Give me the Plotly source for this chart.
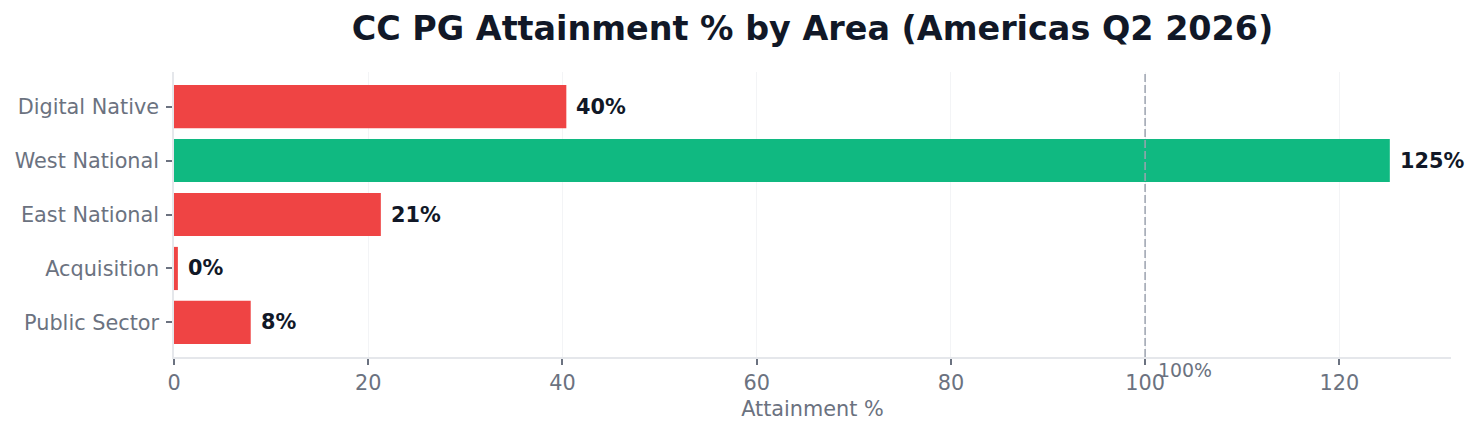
import plotly.graph_objects as go

# Daten
areas = ["Digital Native", "West National", "East National", "Acquisition", "Public Sector"]
attainment = [40.4, 125.2, 21.3, 0.4, 7.9]
target = 100

RED = "#ef4444"
GREEN = "#10b981"
colors = [GREEN if v >= target else RED for v in attainment]

# Seite hat 8px Body-Rand -> Figur etwas kleiner, Ränder angepasst
W, H = 1463, 419

fig = go.Figure()

fig.add_trace(go.Bar(
    x=attainment,
    y=areas,
    orientation="h",
    marker=dict(color=colors, line=dict(width=0)),
    width=0.8,
    hoverinfo="x+y",
))

# Wertebeschriftungen rechts neben den Balken
for area, val in zip(areas, attainment):
    fig.add_annotation(
        x=val, y=area, text=f"<b>{val:.0f}%</b>",
        xanchor="left", yanchor="middle", xshift=8, showarrow=False,
        font=dict(size=20.8, color="#111827", family="DejaVu Sans"),
    )

# Ziel-Linie bei 100 %
fig.add_shape(
    type="line", x0=target, x1=target, y0=0, y1=1, yref="paper",
    line=dict(color="#9ca3af", width=1.5, dash="8px,3px"),
)
fig.add_annotation(
    x=target, y=0, yref="paper", text="100%",
    xanchor="left", yanchor="top", xshift=11, yshift=0, showarrow=False,
    font=dict(size=18.9, color="#6b7280", family="DejaVu Sans"),
)

fig.update_layout(
    width=W, height=H,
    margin=dict(l=166, r=20, t=64, b=70, autoexpand=False),
    paper_bgcolor="white", plot_bgcolor="white",
    font=dict(family="DejaVu Sans", color="#6b7280"),
    title=dict(
        text="<b>CC PG Attainment % by Area (Americas Q2 2026)</b>",
        x=(166 + W - 20) / 2 / W, xanchor="center", y=1 - 20.5 / H, yanchor="middle",
        font=dict(size=33.4, color="#111827"),
    ),
    showlegend=False,
    xaxis=dict(
        range=[0, 131.5],
        tickvals=[0, 20, 40, 60, 80, 100, 120],
        tickfont=dict(size=20.8, color="#6b7280"),
        ticks="outside", ticklen=6, tickwidth=1.5, tickcolor="#6b7280",
        ticklabelstandoff=0,
        showgrid=True, gridcolor="#f3f4f6", gridwidth=1,
        showline=True, linecolor="#e5e7eb", linewidth=1.5,
        zeroline=False, automargin=False,
        title=dict(text="Attainment %", font=dict(size=20.8, color="#6b7280"), standoff=8),
    ),
    yaxis=dict(
        range=[4.64, -0.64],
        tickfont=dict(size=20.8, color="#6b7280"),
        ticks="outside", ticklen=6, tickwidth=1.5, tickcolor="#6b7280",
        ticklabelstandoff=3,
        showgrid=False,
        showline=True, linecolor="#e5e7eb", linewidth=1.5,
        zeroline=False, automargin=False,
    ),
)

fig.write_html("out.html")
